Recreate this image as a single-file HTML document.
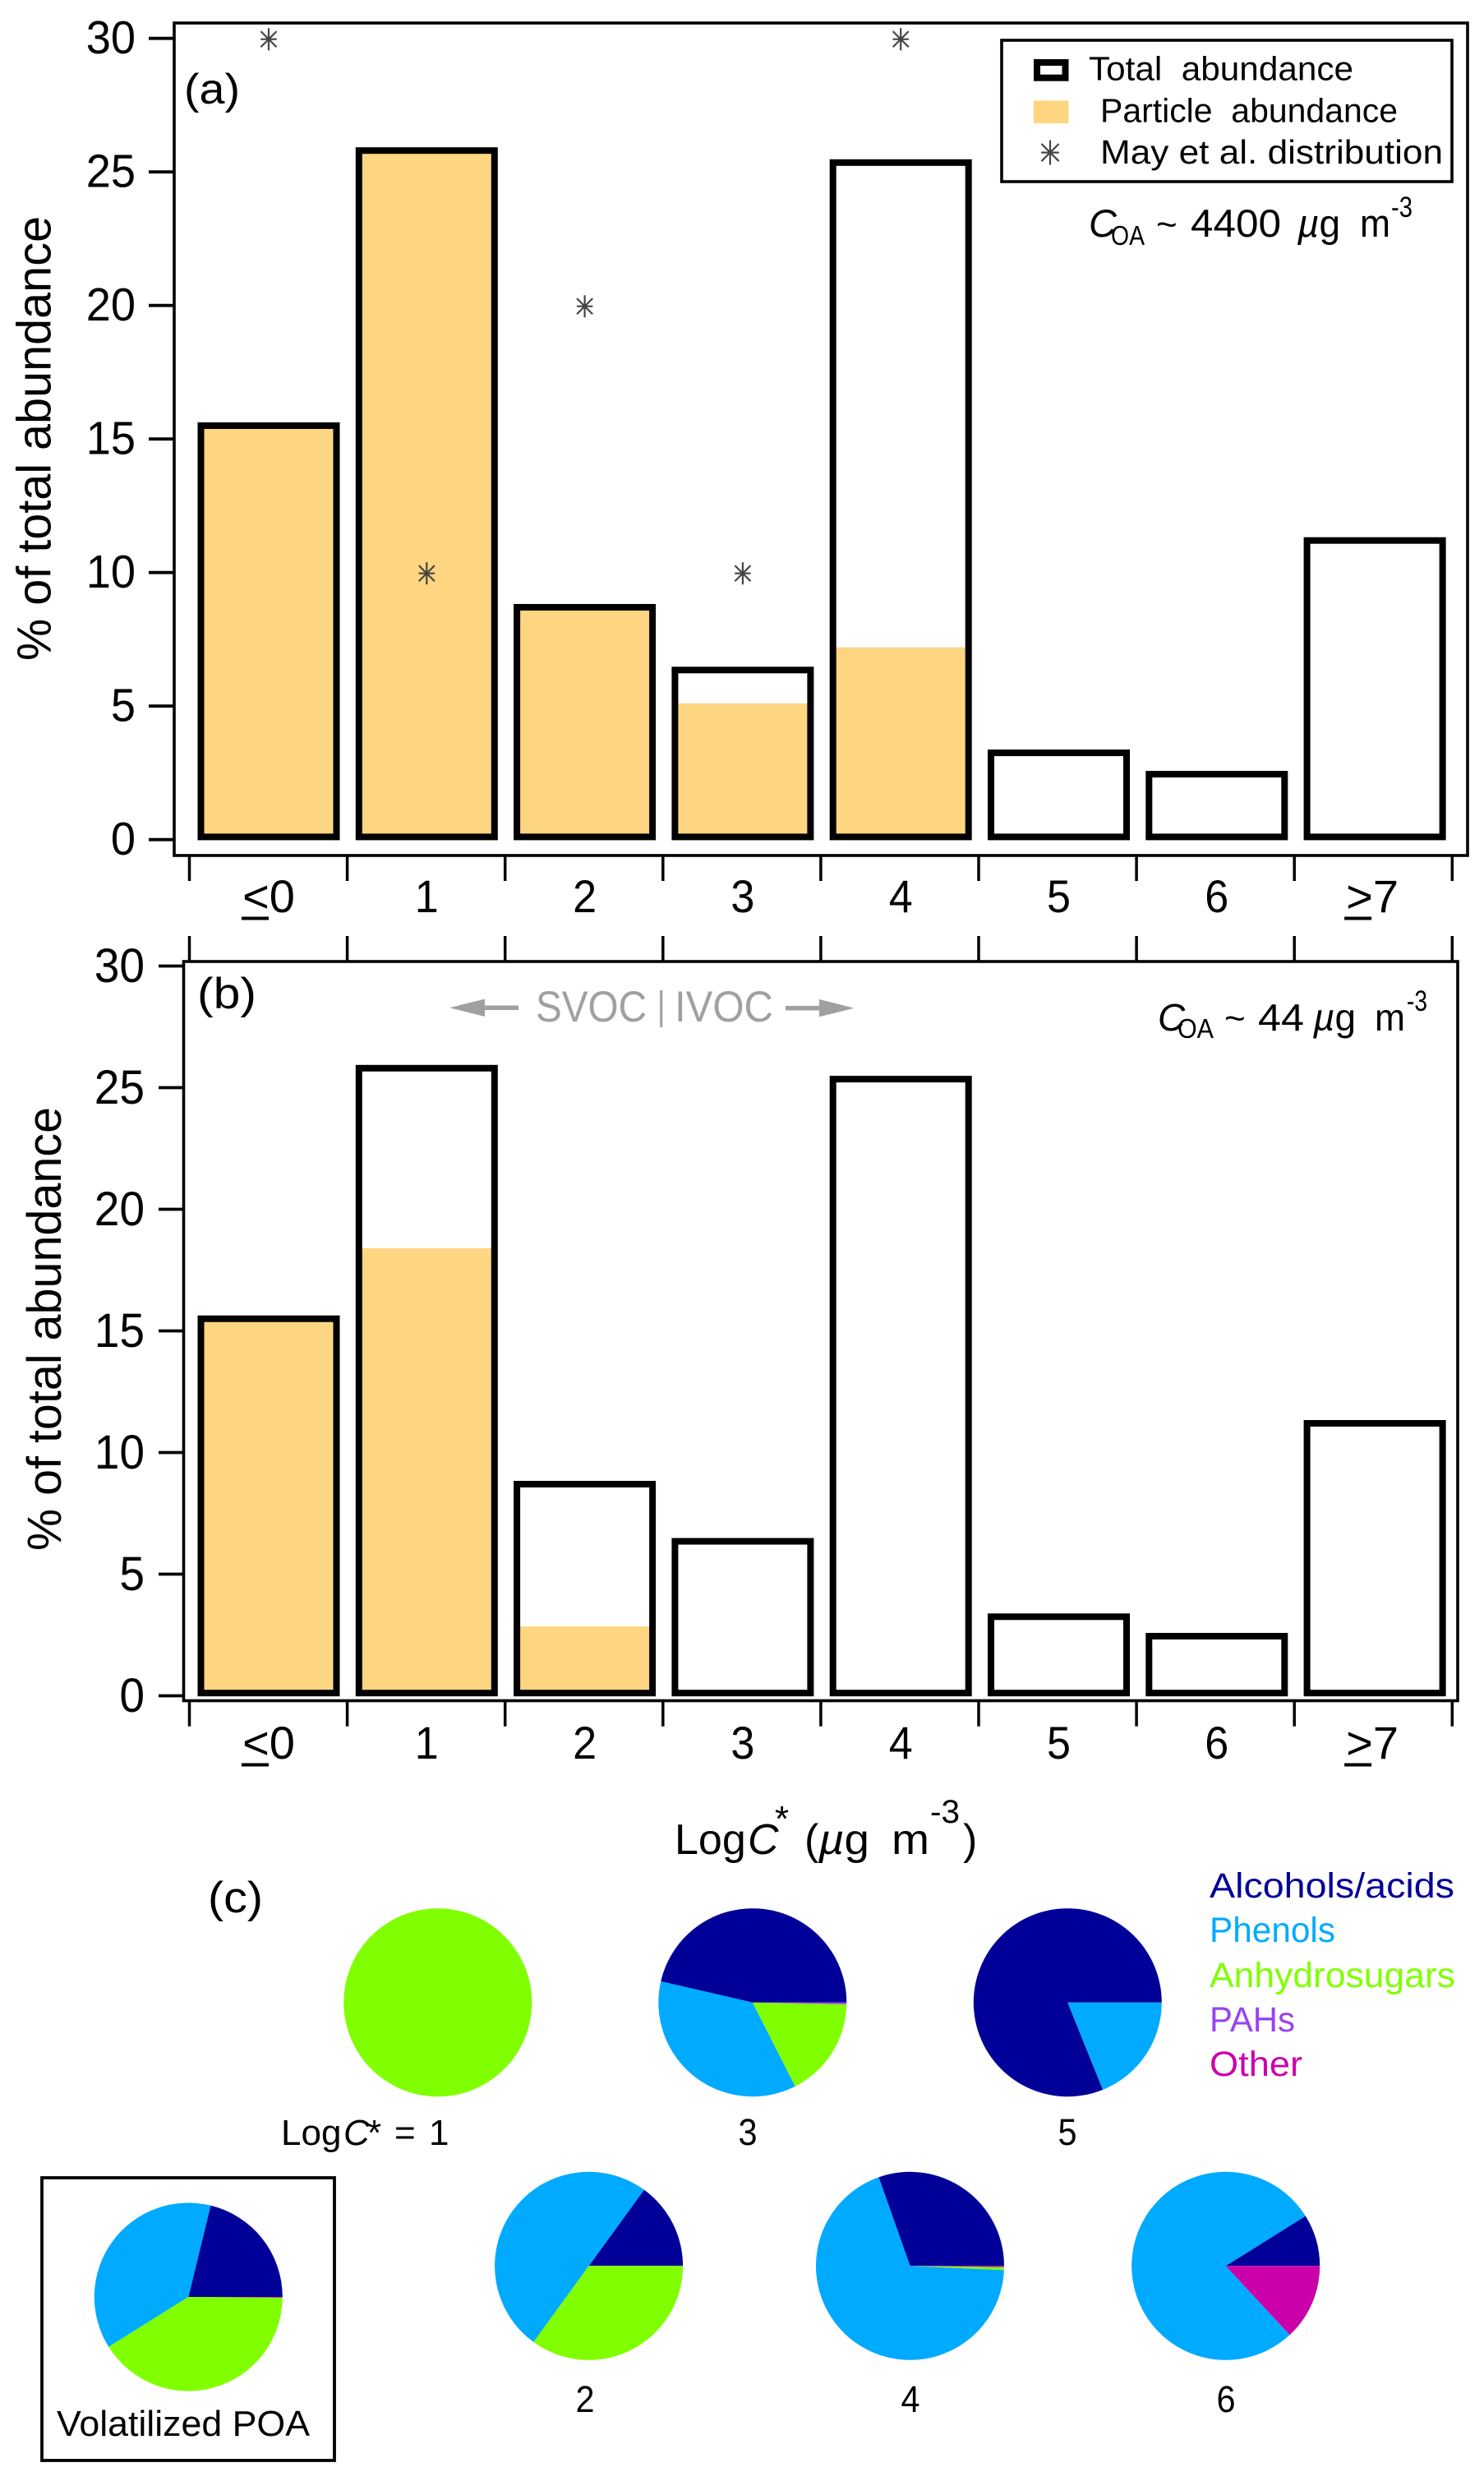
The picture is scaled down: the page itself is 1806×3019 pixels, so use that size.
<!DOCTYPE html>
<html lang="en">
<head>
<meta charset="utf-8">
<title>Volatility distribution of biomass burning organic aerosol</title>
<style>
html,body{margin:0;padding:0;background:#fff;}
svg{display:block;}
text{font-family:"Liberation Sans",sans-serif;fill:#000;}
</style>
</head>
<body>
<svg id="chart" xmlns="http://www.w3.org/2000/svg" width="1806" height="3019" viewBox="0 0 1806 3019">
  <rect x="0" y="0" width="1806" height="3019" fill="#fff"/>

  <g id="panel-a">
    <rect x="212" y="28" width="1574" height="1013" fill="#fff" stroke="#000" stroke-width="3.6"/>
    <text transform="translate(61.5,804) rotate(-90)" font-size="58" textLength="541" lengthAdjust="spacingAndGlyphs">% of total abundance</text>
    <text x="224" y="126" font-size="52" textLength="68" lengthAdjust="spacingAndGlyphs">(a)</text>
  </g>

  <g id="panel-b">
    <rect x="223.5" y="1170" width="1550.5" height="899.5" fill="#fff" stroke="#000" stroke-width="3.6"/>
    <text transform="translate(74,1887) rotate(-90)" font-size="58" textLength="540" lengthAdjust="spacingAndGlyphs">% of total abundance</text>
    <text x="240" y="1227" font-size="53" textLength="72" lengthAdjust="spacingAndGlyphs">(b)</text>
    <g>
      <rect x="590" y="1223.5" width="41" height="5.5" fill="#a0a0a0"/>
      <polygon points="547,1226.3 590,1215.6 590,1237" fill="#a0a0a0"/>
      <text x="652" y="1243" font-size="53" textLength="135" lengthAdjust="spacingAndGlyphs" style="fill:#a0a0a0">SVOC</text>
      <rect x="803.2" y="1205" width="3" height="45" fill="#a0a0a0"/>
      <text x="821" y="1243" font-size="53" textLength="120" lengthAdjust="spacingAndGlyphs" style="fill:#a0a0a0">IVOC</text>
      <rect x="956" y="1224" width="41" height="5.5" fill="#a0a0a0"/>
      <polygon points="1039.5,1226.7 997,1216 997,1237.4" fill="#a0a0a0"/>
    </g>
    <g>
      <text x="1409" y="1254" font-size="46" font-style="italic">C</text>
      <text x="1433" y="1263" font-size="33" textLength="44" lengthAdjust="spacingAndGlyphs">OA</text>
      <text x="1490" y="1254" font-size="44">~</text>
      <text x="1531" y="1254" font-size="46" textLength="56" lengthAdjust="spacingAndGlyphs">44</text>
      <text x="1598" y="1254" font-size="46" textLength="52" lengthAdjust="spacingAndGlyphs"><tspan font-style="italic">µ</tspan>g</text>
      <text x="1673" y="1254" font-size="46" textLength="37" lengthAdjust="spacingAndGlyphs">m</text>
      <text x="1712" y="1230" font-size="35" textLength="25" lengthAdjust="spacingAndGlyphs">-3</text>
    </g>
  </g>

  <g id="legend-main">
    <rect x="1219" y="49" width="548" height="172" fill="#fff" stroke="#000" stroke-width="3.6"/>
    <rect x="1262" y="76" width="34.5" height="18.7" fill="#fff" stroke="#000" stroke-width="8"/>
    <text x="1325" y="97.6" font-size="41" textLength="322" lengthAdjust="spacingAndGlyphs" xml:space="preserve">Total  abundance</text>
    <rect x="1258" y="122.5" width="42.5" height="27.5" fill="#fed580"/>
    <text x="1339" y="148.5" font-size="41" textLength="362" lengthAdjust="spacingAndGlyphs" xml:space="preserve">Particle  abundance</text>
    <text x="1339" y="199" font-size="41" textLength="417" lengthAdjust="spacingAndGlyphs">May et al. distribution</text>
  </g>

  <g>
    <text x="1325" y="288" font-size="47" font-style="italic">C</text>
    <text x="1352" y="298" font-size="33" textLength="41" lengthAdjust="spacingAndGlyphs">OA</text>
    <text x="1407" y="288" font-size="44">~</text>
    <text x="1449" y="288" font-size="47" textLength="110" lengthAdjust="spacingAndGlyphs">4400</text>
    <text x="1579" y="288" font-size="47" textLength="52" lengthAdjust="spacingAndGlyphs"><tspan font-style="italic">µ</tspan>g</text>
    <text x="1655" y="288" font-size="47" textLength="37" lengthAdjust="spacingAndGlyphs">m</text>
    <text x="1693" y="264" font-size="35" textLength="26" lengthAdjust="spacingAndGlyphs">-3</text>
  </g>

  <g>
    <text x="821" y="2256" font-size="52">Log</text>
    <text x="910" y="2256" font-size="52" font-style="italic">C</text>
    <text x="943" y="2228" font-size="44">*</text>
    <text x="979" y="2256" font-size="52">(</text>
    <text x="996" y="2256" font-size="52" textLength="62" lengthAdjust="spacingAndGlyphs"><tspan font-style="italic">µ</tspan>g</text>
    <text x="1085" y="2256" font-size="52" textLength="46" lengthAdjust="spacingAndGlyphs">m</text>
    <text x="1132" y="2218" font-size="40" textLength="36" lengthAdjust="spacingAndGlyphs">-3</text>
    <text x="1172" y="2256" font-size="52">)</text>
  </g>

  <g id="panel-c">
    <text x="253" y="2327" font-size="53" textLength="67" lengthAdjust="spacingAndGlyphs">(c)</text>
    <rect x="51" y="2650" width="356" height="344" fill="#fff" stroke="#000" stroke-width="3.8"/>
    <text x="69" y="2964" font-size="44" textLength="308" lengthAdjust="spacingAndGlyphs">Volatilized POA</text>
    <g>
      <text x="342" y="2610" font-size="44">Log</text>
      <text x="418" y="2610" font-size="44" font-style="italic">C</text>
      <text x="447" y="2610" font-size="44">*</text>
      <text x="480" y="2610" font-size="44">=</text>
      <text x="522" y="2610" font-size="44">1</text>
    </g>
    <text x="1472" y="2309" font-size="43" textLength="298" lengthAdjust="spacingAndGlyphs" style="fill:#000099">Alcohols/acids</text>
    <text x="1472" y="2363" font-size="43" textLength="153" lengthAdjust="spacingAndGlyphs" style="fill:#00aaff">Phenols</text>
    <text x="1472" y="2418" font-size="43" textLength="299" lengthAdjust="spacingAndGlyphs" style="fill:#80ff00">Anhydrosugars</text>
    <text x="1472" y="2472" font-size="43" textLength="104" lengthAdjust="spacingAndGlyphs" style="fill:#9944ee">PAHs</text>
    <text x="1472" y="2526" font-size="43" textLength="113" lengthAdjust="spacingAndGlyphs" style="fill:#cc00aa">Other</text>
  </g>
</svg>

<script>
// Shared bar-chart categories and ticks
const categoryLabels = ['<0', '1', '2', '3', '4', '5', '6', '>7'];
const yTickValues = [0, 5, 10, 15, 20, 25, 30];

// Bar series, percent of total abundance
const totalAbundance = [15.5, 25.8, 8.7, 6.35, 25.35, 3.25, 2.45, 11.2];
const particleAbundanceA = [15.5, 25.8, 8.7, 5.1, 7.2, 0, 0, 0];
const particleAbundanceB = [15.5, 18.4, 2.85, 0, 0, 0, 0, 0];
const mayDistribution = [30, 10, 20, 10, 30, null, null, null];

// Pie categories and composition, percent
const pieCategories = ['alcohols-acids', 'phenols', 'anhydrosugars', 'pahs', 'other'];
const pieColors = ['#000099', '#00aaff', '#80ff00', '#9944ee', '#cc00aa'];
const pieLogC1 = [0, 0, 100, 0, 0];
const pieLogC2 = [15, 50, 35, 0, 0];
const pieLogC3 = [46.4, 36.1, 17.2, 0.3, 0];
const pieLogC4 = [30.4, 68.9, 0.5, 0, 0.2];
const pieLogC5 = [81.1, 18.9, 0, 0, 0];
const pieLogC6 = [8.9, 78, 0, 0, 13.1];
const pieVolatilized = [21.2, 37.7, 41, 0, 0.1];

const SVG_NS = 'http://www.w3.org/2000/svg';
const PIE_RADIUS = 114.5;
const BAR_WIDTH = 165;
const BAR_STROKE = 8;

function make(parent, tag, attrs) {
  const el = document.createElementNS(SVG_NS, tag);
  for (const key in attrs) el.setAttribute(key, attrs[key]);
  parent.appendChild(el);
  return el;
}

// Narrows a label horizontally, matching the condensed type of the figure.
function condense(el, factor) {
  el.setAttribute('textLength', el.getComputedTextLength() * factor);
  el.setAttribute('lengthAdjust', 'spacingAndGlyphs');
}

function categoryX(i) { return 327 + 192.3 * i; }
function tickX(i) { return 230.5 + 192.1 * i; }

function drawStar(parent, cx, cy, r, name) {
  const star = make(parent, 'g', { stroke: '#444', 'stroke-width': 2.2, fill: 'none' });
  
  
  const d = r * 0.707;
  make(star, 'path', {
    d: 'M' + cx + ' ' + (cy - r) + 'V' + (cy + r) +
       'M' + (cx - r * 0.72) + ' ' + cy + 'H' + (cx + r * 0.72) +
       'M' + (cx - d) + ' ' + (cy - d) + 'L' + (cx + d) + ' ' + (cy + d) +
       'M' + (cx - d) + ' ' + (cy + d) + 'L' + (cx + d) + ' ' + (cy - d)
  });
}

function drawPanel(root, cfg) {
  const y = v => cfg.y0 - v * cfg.unit;
  const barBase = cfg.y0 - 3.3;

  yTickValues.forEach(v => {
    const tick = make(root, 'line', {
      x1: cfg.tickX1, x2: cfg.left, y1: y(v), y2: y(v), stroke: '#000', 'stroke-width': 3.8
    });
    
    
    const label = make(root, 'text', {
      x: cfg.tickLabelX, y: y(v) + cfg.tickLabelDy, 'font-size': cfg.fontSize, 'text-anchor': 'end'
    });
    label.textContent = String(v);
    
    
    condense(label, 0.95);
  });

  for (let i = 0; i <= categoryLabels.length; i++) {
    cfg.xTickRanges.forEach((range, r) => {
      const tick = make(root, 'line', {
        x1: tickX(i), x2: tickX(i), y1: range[0], y2: range[1], stroke: '#000', 'stroke-width': 3.5
      });
      
      
    });
  }

  categoryLabels.forEach((cat, i) => {
    const cx = categoryX(i);
    const fillValue = cfg.particle[i];
    if (fillValue > 0) {
      const fill = make(root, 'rect', {
        x: cx - BAR_WIDTH / 2, y: y(fillValue), width: BAR_WIDTH,
        height: barBase - y(fillValue), fill: '#fed580'
      });
      
      
    }
    const bar = make(root, 'rect', {
      x: cx - BAR_WIDTH / 2, y: y(totalAbundance[i]), width: BAR_WIDTH,
      height: barBase - y(totalAbundance[i]), fill: 'none', stroke: '#000', 'stroke-width': BAR_STROKE
    });
    
    

    const label = make(root, 'text', {
      x: cx - (i === 7 ? 3 : 0), y: cfg.labelBaseline, 'font-size': 56, 'text-anchor': 'middle'
    });
    label.textContent = cat;
    
    
    if (cat.length === 1) condense(label, 0.93);

    if (cat.length > 1) {
      const underline = make(root, 'rect', {
        x: cx - (i === 7 ? 37 : 33), y: cfg.labelBaseline + 5.5, width: 33, height: 4, fill: '#000'
      });
      
      
    }
  });

  if (cfg.may) {
    cfg.may.forEach((v, i) => {
      if (v === null) return;
      drawStar(root, categoryX(i), y(v) + 1, 13.5, cfg.id + '-may-point-' + i);
    });
  }
}

function drawPie(root, values, cx, cy, name, label, labelX, labelY) {
  const group = make(root, 'g', {});
  
  
  const total = values.reduce((a, b) => a + b, 0);
  let cum = 0;
  values.forEach((v, i) => {
    if (v <= 0) return;
    const frac = v / total;
    let slice;
    if (frac > 0.9999) {
      slice = make(group, 'circle', { cx: cx, cy: cy, r: PIE_RADIUS, fill: pieColors[i] });
    } else {
      // Slices run counter-clockwise from three o'clock.
      const a0 = cum * 2 * Math.PI;
      const a1 = (cum + frac) * 2 * Math.PI;
      const large = frac > 0.5 ? 1 : 0;
      slice = make(group, 'path', {
        d: 'M' + cx + ' ' + cy +
           'L' + (cx + PIE_RADIUS * Math.cos(a0)) + ' ' + (cy - PIE_RADIUS * Math.sin(a0)) +
           'A' + PIE_RADIUS + ' ' + PIE_RADIUS + ' 0 ' + large + ' 0 ' +
           (cx + PIE_RADIUS * Math.cos(a1)) + ' ' + (cy - PIE_RADIUS * Math.sin(a1)) + 'Z',
        fill: pieColors[i]
      });
    }
    
    
    cum += frac;
  });
  if (label) {
    const text = make(group, 'text', { x: labelX, y: labelY, 'font-size': 45, 'text-anchor': 'middle' });
    text.textContent = label;
    
    
    condense(text, 0.92);
  }
}

drawPanel(document.getElementById('panel-a'), {
  id: 'panel-a', y0: 1021.7, unit: 32.5, left: 212, tickX1: 181, fontSize: 57,
  tickLabelX: 165, tickLabelDy: 18.5, labelBaseline: 1110,
  xTickRanges: [[1041, 1072]],
  particle: particleAbundanceA, may: mayDistribution
});
drawPanel(document.getElementById('panel-b'), {
  id: 'panel-b', y0: 2063.5, unit: 29.6, left: 223.5, tickX1: 193, fontSize: 58,
  tickLabelX: 176, tickLabelDy: 19.5, labelBaseline: 2140,
  xTickRanges: [[1139, 1170], [2069.5, 2100.7]],
  particle: particleAbundanceB, may: null
});

drawStar(document.getElementById('legend-main'), 1278, 185.6, 15, 'legend-swatch-may');

const panelC = document.getElementById('panel-c');
drawPie(panelC, pieLogC1, 532.8, 2436.7, 'pie-logc-1', null);
drawPie(panelC, pieLogC3, 915.8, 2436.7, 'pie-logc-3', '3', 910, 2610);
drawPie(panelC, pieLogC5, 1299.3, 2436.7, 'pie-logc-5', '5', 1299, 2610);
drawPie(panelC, pieVolatilized, 229.3, 2795, 'pie-volatilized-poa', null);
drawPie(panelC, pieLogC2, 716.6, 2757.3, 'pie-logc-2', '2', 712, 2935);
drawPie(panelC, pieLogC4, 1107.5, 2757.3, 'pie-logc-4', '4', 1108, 2935);
drawPie(panelC, pieLogC6, 1491.7, 2757.3, 'pie-logc-6', '6', 1492, 2935);
</script>
</body>
</html>
